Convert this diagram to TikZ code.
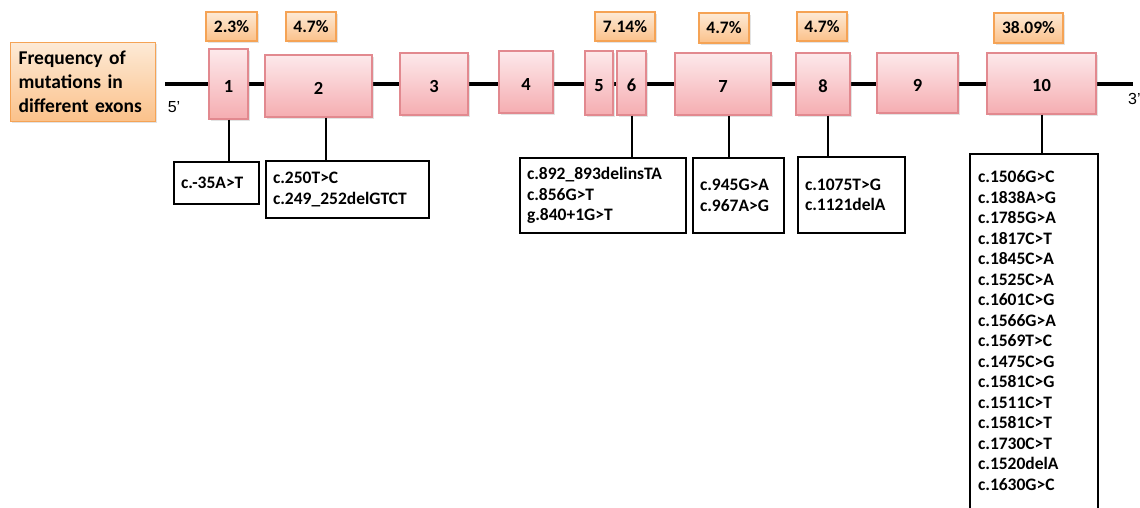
\documentclass[tikz,border=0pt]{standalone}
\usepackage{fontspec}
\usetikzlibrary{shadows}
\setmainfont{Carlito}
\newfontfamily\arialf{Liberation Sans}
\definecolor{exontop}{HTML}{FDE9EB}
\definecolor{exonbot}{HTML}{F5ADB1}
\definecolor{exonline}{HTML}{E2898F}
\definecolor{pcttop}{HTML}{FDEAD6}
\definecolor{pctbot}{HTML}{FBC18A}
\definecolor{pctline}{HTML}{F5A355}
\begin{document}
\begin{tikzpicture}[x=1pt,y=-1pt,
  softshadow/.style={drop shadow={opacity=0.22, shadow xshift=1.5pt, shadow yshift=-1.5pt}},
  exon/.style={draw=exonline, line width=1.2pt, top color=exontop, bottom color=exonbot, softshadow,
    inner sep=0pt, text height=16pt, text depth=0pt, font=\bfseries\fontsize{18.5}{20}\selectfont},
  pct/.style={draw=pctline, line width=1.1pt, top color=pcttop, bottom color=pctbot, softshadow,
    inner sep=0pt, font=\bfseries\fontsize{17.5}{20}\selectfont},
  mutbox/.style={draw, line width=2pt, align=left, anchor=north west, inner xsep=7pt,
    font=\bfseries\fontsize{17.5}{20.5}\selectfont},
  conn/.style={line width=2pt},
  backbone/.style={line width=3.4pt},
  endlabel/.style={font=\arialf\fontsize{16}{18}\selectfont, inner sep=0pt}
]
\useasboundingbox (0,0) rectangle (1140,507);

% legend box
\node[draw=pctline, line width=1.1pt, top color=pcttop, bottom color=pctbot, softshadow, anchor=north west,
  minimum width=145pt, minimum height=79pt, text width=129pt, inner xsep=8pt, align=left,
  font=\bfseries\fontsize{19.5}{24}\selectfont] (freq) at (10,42)
  {Frequency of\\mutations in\\different exons};

% backbone
\coordinate (five) at (165,84);
\coordinate (three) at (1133,84);
\draw[backbone] (five) -- (three);
\node[endlabel] (l5) at (174,107) {5’};
\node[endlabel, anchor=west] (l3) at (1128,99) {3’};

% exons
\node[exon, minimum width=39pt,  minimum height=70pt] (e1)  at (228.5,84)   {1};
\node[exon, minimum width=107pt, minimum height=62pt] (e2)  at (318.5,86)   {2};
\node[exon, minimum width=68pt,  minimum height=62pt] (e3)  at (434,84)     {3};
\node[exon, minimum width=54pt,  minimum height=62pt] (e4)  at (526,82)     {4};
\node[exon, minimum width=28pt,  minimum height=64pt] (e5)  at (599,83)     {5};
\node[exon, minimum width=29pt,  minimum height=64pt] (e6)  at (631.5,83)   {6};
\node[exon, minimum width=96pt,  minimum height=62pt] (e7)  at (723,84)     {7};
\node[exon, minimum width=54pt,  minimum height=62pt] (e8)  at (823,84)     {8};
\node[exon, minimum width=81pt,  minimum height=60pt] (e9)  at (917.5,83)   {9};
\node[exon, minimum width=109pt, minimum height=61pt] (e10) at (1041.5,83.5) {10};

% percentages
\node[pct, minimum width=51pt, minimum height=29pt] (p1)  at (231.5,26.5) {2.3\%};
\node[pct, minimum width=50pt, minimum height=29pt] (p2)  at (311,26.5)   {4.7\%};
\node[pct, minimum width=60pt, minimum height=29pt] (p56) at (625,26.5)   {7.14\%};
\node[pct, minimum width=50pt, minimum height=30pt] (p7)  at (724,28)     {4.7\%};
\node[pct, minimum width=50pt, minimum height=29pt] (p8)  at (822,26.5)   {4.7\%};
\node[pct, minimum width=69pt, minimum height=30pt] (p10) at (1028.5,28)  {38.09\%};

% mutation boxes
\node[mutbox, text width=71pt, minimum height=42pt] (m1) at (173,161) {c.-35A>T};
\node[mutbox, text width=149pt, minimum height=57pt] (m2) at (265,160) {c.250T>C\\c.249\_252delGTCT};
\node[mutbox, text width=152pt, minimum height=75pt] (m6) at (519,157) {c.892\_893delinsTA\\c.856G>T\\g.840+1G>T};
\node[mutbox, text width=77pt, minimum height=75pt] (m7) at (692,157) {c.945G>A\\c.967A>G};
\node[mutbox, text width=93pt, minimum height=76pt] (m8) at (797,156) {c.1075T>G\\c.1121delA};
\node[mutbox, draw=none, text width=112pt, inner ysep=16pt] (m10) at (970,154)
  {c.1506G>C\\c.1838A>G\\c.1785G>A\\c.1817C>T\\c.1845C>A\\c.1525C>A\\c.1601C>G\\c.1566G>A\\c.1569T>C\\c.1475C>G\\c.1581C>G\\c.1511C>T\\c.1581C>T\\c.1730C>T\\c.1520delA\\c.1630G>C};
\draw[line width=2pt] ([yshift=-40pt]m10.south west) -- (m10.north west) -- (m10.north east) -- ([yshift=-40pt]m10.south east);

% connectors
\draw[conn] (e1.south) -- (e1.south |- m1.north);
\draw[conn] ([xshift=7.5pt]e2.south) -- ([xshift=7.5pt]e2.south |- m2.north);
\draw[conn] (e6.south) -- (e6.south |- m6.north);
\draw[conn] ([xshift=6pt]e7.south) -- ([xshift=6pt]e7.south |- m7.north);
\draw[conn] ([xshift=5pt]e8.south) -- ([xshift=5pt]e8.south |- m8.north);
\draw[conn] (e10.south) -- (e10.south |- m10.north);
\end{tikzpicture}
\end{document}
